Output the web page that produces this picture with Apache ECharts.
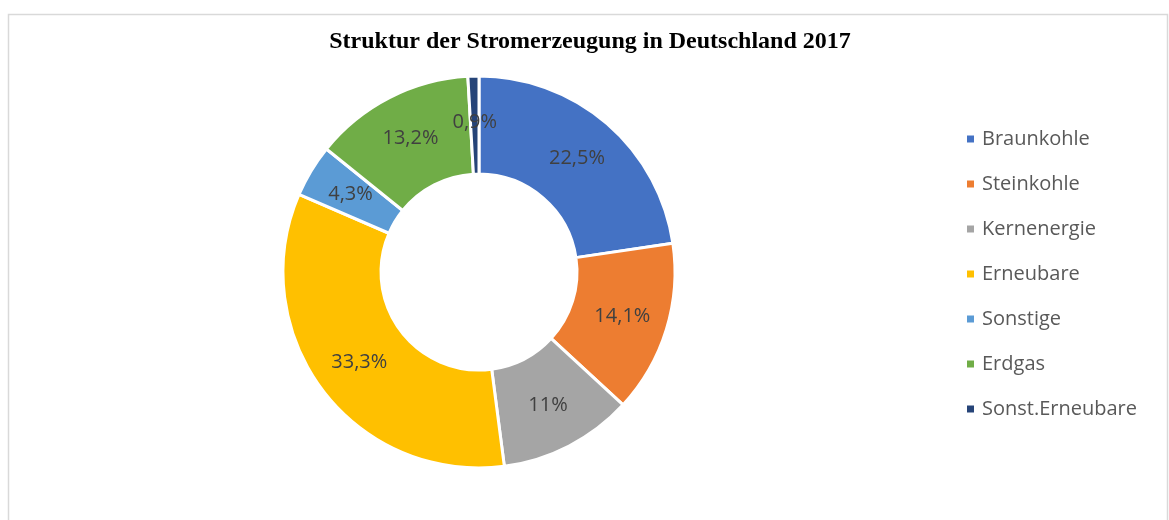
<!DOCTYPE html>
<html>
<head>
<meta charset="utf-8">
<script src="https://cdn.jsdelivr.net/npm/echarts@6/dist/echarts.min.js"></script>
<style>
  html, body { margin: 0; padding: 0; background: #fff; }
  #chart { width: 1169px; height: 520px; }
</style>
</head>
<body>
<div id="chart"></div>
<script>
// data
const categories = ['Braunkohle', 'Steinkohle', 'Kernenergie', 'Erneubare', 'Sonstige', 'Erdgas', 'Sonst.Erneubare'];
const shares = [22.5, 14.1, 11, 33.3, 4.3, 13.2, 0.9];
const colors = ['#4472C4', '#ED7D31', '#A5A5A5', '#FFC000', '#5B9BD5', '#70AD47', '#264478'];

const chart = echarts.init(document.getElementById('chart'));

const options = {
    color: colors,
    title: {
        text: 'Struktur der Stromerzeugung in Deutschland 2017',
        left: 585,
        textAlign: 'center',
        top: 25,
        textStyle: {
            fontFamily: 'Liberation Serif',
            fontWeight: 'bold',
            fontSize: 24,
            color: '#000'
        }
    },
    legend: {
        orient: 'vertical',
        left: 960,
        top: 124,
        icon: 'rect',
        itemWidth: 9,
        itemHeight: 9,
        itemGap: 25,
        data: categories,
        textStyle: {
            fontFamily: 'Open Sans',
            fontSize: 20,
            lineHeight: 20,
            color: '#595959',
            padding: [0, 0, 0, 2]
        }
    },
    graphic: [{
        type: 'rect',
        shape: { x: 8.5, y: 14.5, width: 1159, height: 560 },
        style: { fill: 'none', stroke: '#d9d9d9', lineWidth: 1.5 },
        silent: true
    }],
    series: [{
        type: 'pie',
        center: [479, 272],
        radius: [98, 196],
        startAngle: 90,
        clockwise: true,
        avoidLabelOverlap: false,
        itemStyle: {
            borderColor: '#fff',
            borderWidth: 3
        },
        label: {
            position: 'inside',
            formatter: p => String(p.value).replace('.', ',') + '%',
            fontFamily: 'Open Sans',
            fontSize: 20,
            color: '#404040',
            padding: [10, 0, 0, 0]
        },
        labelLine: { show: false },
        data: categories.map((name, i) => ({ name: name, value: shares[i] }))
    }]
};

chart.setOption(options);
</script>
</body>
</html>
